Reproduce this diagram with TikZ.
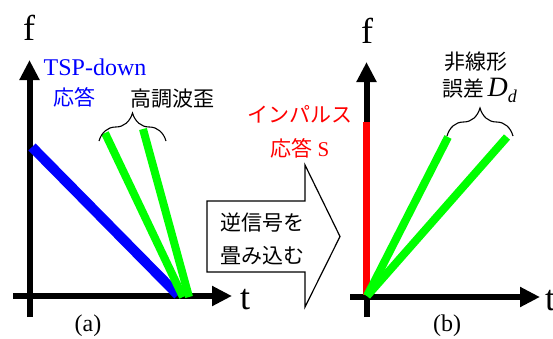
\documentclass[tikz,border=0pt]{standalone}
\usepackage{fontspec}
\setmainfont{Liberation Serif}
\newfontfamily\jp{Noto Sans CJK JP}
\usetikzlibrary{arrows.meta,decorations.pathreplacing}
\definecolor{pblue}{RGB}{0,0,255}
\definecolor{pgreen}{RGB}{0,255,0}
\definecolor{pred}{RGB}{255,0,0}
\begin{document}
\begin{tikzpicture}[x=1pt,y=-1pt,
  axis/.style={line width=6pt,-{Triangle[length=20pt,width=19pt]}},
  axlabel/.style={inner sep=0pt,font=\fontsize{36}{36}\selectfont},
  jplabel/.style={inner sep=0pt,font=\jp\fontsize{21}{24}\selectfont},
  panelcap/.style={inner sep=0pt,font=\fontsize{24}{26}\selectfont},
  bracestyle/.style={line width=1.1pt,decorate,decoration={brace,amplitude=28pt,aspect=0.5}},
  gline/.style={pgreen,line width=8pt},
  bline/.style={pblue,line width=10pt},
  rline/.style={pred,line width=7.5pt}]
\useasboundingbox (0,0) rectangle (553,338);

% ---------- panel (a) ----------
\coordinate (a0b) at (29.5,317);
\coordinate (a0t) at (29.5,60);
\coordinate (a0l) at (13,296);
\coordinate (a0r) at (232,296);
\draw[axis] (a0b) -- (a0t);
\draw[axis] (a0l) -- (a0r);
\node[axlabel] (fa) at (29,28) {f};
\node[axlabel] (ta) at (245,300) {t};

\coordinate (bs) at (32,147);
\coordinate (be) at (178,295);
\draw[bline] (bs) -- (be);
\coordinate (g1s) at (105,133);
\coordinate (g1e) at (183,297);
\coordinate (g2s) at (143,129);
\coordinate (g2e) at (189,297);
\draw[gline] (g1s) -- (g1e);
\draw[gline] (g2s) -- (g2e);

\coordinate (brAl) at (99,141);
\coordinate (brAr) at (166,141);
\draw[bracestyle] (brAl) -- (brAr);

\node[inner sep=0pt,pblue,font=\fontsize{24}{26}\selectfont] (tsp) at (95,67) {TSP-down};
\node[jplabel,pblue] (tspj) at (74,97) {応答};
\node[jplabel] (harm) at (172,99) {高調波歪};
\node[panelcap] (capa) at (88,326) {(a)};

% ---------- block arrow ----------
\draw[line width=1.2pt,fill=white] (207,201) -- (305,201) -- (305,165) -- (340,236.5)
  -- (305,307) -- (305,272) -- (207,272) -- cycle;
\node[inner sep=0pt,align=center,font=\jp\fontsize{21}{33}\selectfont] (conv) at (262,239)
  {逆信号を\\畳み込む};

% ---------- panel (b) ----------
\coordinate (b0b) at (366.5,317);
\coordinate (b0t) at (366.5,62);
\coordinate (b0l) at (350,297);
\coordinate (b0r) at (540,297);
\draw[axis] (b0b) -- (b0t);
\draw[axis] (b0l) -- (b0r);
\node[axlabel] (fb) at (367,31) {f};
\node[axlabel,anchor=west] (tb) at (545,301) {t};

\coordinate (rs) at (366.5,122);
\coordinate (re) at (366.5,295);
\draw[rline] (rs) -- (re);
\coordinate (o) at (367,296);
\coordinate (g3e) at (448,137);
\coordinate (g4e) at (507,137);
\draw[gline] (o) -- (g3e);
\draw[gline] (o) -- (g4e);

\coordinate (brBl) at (447,136);
\coordinate (brBr) at (513,136);
\draw[bracestyle] (brBl) -- (brBr);

\node[jplabel,pred] (imp) at (300,114) {インパルス};
\node[jplabel,pred] (impr) at (300,148) {応答 {\rmfamily S}};
\node[jplabel] (nl) at (476,62) {非線形};
\node[jplabel,anchor=west] (err) at (442,90) {誤差\,{\rmfamily\fontsize{28}{28}\selectfont\itshape D\raisebox{-6pt}{\fontsize{18}{18}\selectfont d}}};
\node[panelcap] (capb) at (447,326) {(b)};
\end{tikzpicture}
\end{document}
